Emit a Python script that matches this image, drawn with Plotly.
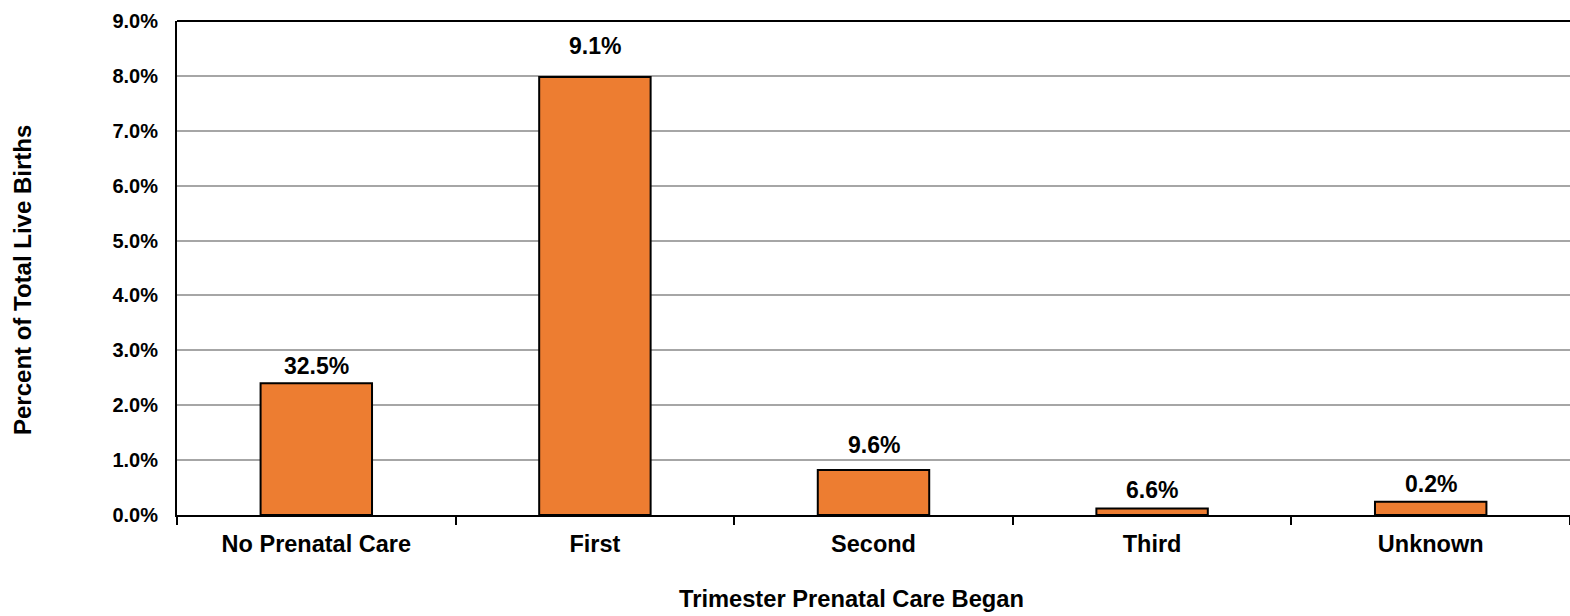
import plotly.graph_objects as go

categories = ["No Prenatal Care", "First", "Second", "Third", "Unknown"]
values = [2.40, 7.98, 0.82, 0.12, 0.24]
labels = ["32.5%", "9.1%", "9.6%", "6.6%", "0.2%"]
tick_vals = [0, 1, 2, 3, 4, 5, 6, 7, 8, 9]
tick_text = ["0.0%", "1.0%", "2.0%", "3.0%", "4.0%", "5.0%", "6.0%", "7.0%", "8.0%", "9.0%"]

# label vertical offsets above bar tops (pixels, styling)
label_offsets = [17, 31, 25, 18, 18]

font_family = "Liberation Sans, Arial, sans-serif"
bold = lambda s: dict(family=font_family, size=s, color="black", weight="bold")

fig = go.Figure(go.Bar(
    x=categories, y=values,
    marker=dict(color="#ED7D31", line=dict(color="black", width=2)),
    width=0.4, hoverinfo="skip",
))

for c, v, t, off in zip(categories, values, labels, label_offsets):
    fig.add_annotation(x=c, y=v, text=t, showarrow=False, yanchor="middle",
                       yshift=off, font=bold(23))

fig.add_annotation(xref="paper", yref="paper", x=(851 - 177) / 1393, y=-84 / 494,
                   text="Trimester Prenatal Care Began", showarrow=False,
                   xanchor="center", yanchor="middle", font=bold(23.7))
fig.add_annotation(xref="paper", yref="paper", x=-155 / 1393, y=(515 - 280) / 494,
                   text="Percent of Total Live Births", showarrow=False, textangle=-90,
                   xanchor="center", yanchor="middle", font=bold(24))

# top border of the plot area
fig.add_shape(type="line", xref="paper", yref="paper", x0=0, x1=1, y0=1, y1=1,
              line=dict(color="black", width=2))

fig.update_layout(
    width=1570, height=616,
    margin=dict(l=177, r=0, t=21, b=101),
    plot_bgcolor="white", paper_bgcolor="white",
    showlegend=False,
    font=dict(family=font_family, color="black"),
)
fig.update_xaxes(
    automargin=False, showgrid=False,
    showline=True, linecolor="black", linewidth=2, mirror=False,
    ticks="outside", tickson="boundaries", ticklen=8, tickwidth=2, tickcolor="black",
    tickfont=bold(23.5), ticklabelstandoff=7,
)
fig.update_yaxes(
    automargin=False,
    range=[0, 9], tickvals=tick_vals, ticktext=tick_text,
    showline=True, linecolor="black", linewidth=2, mirror=False,
    showgrid=True, gridcolor="#a6a6a6", gridwidth=2,
    ticks="", zeroline=False, ticklabelstandoff=13,
    tickfont=bold(20),
)

fig.write_html(
    "out.html",
    config={"displayModeBar": False},
    post_script="document.body.style.margin='0px'; document.body.style.overflow='hidden';",
)
